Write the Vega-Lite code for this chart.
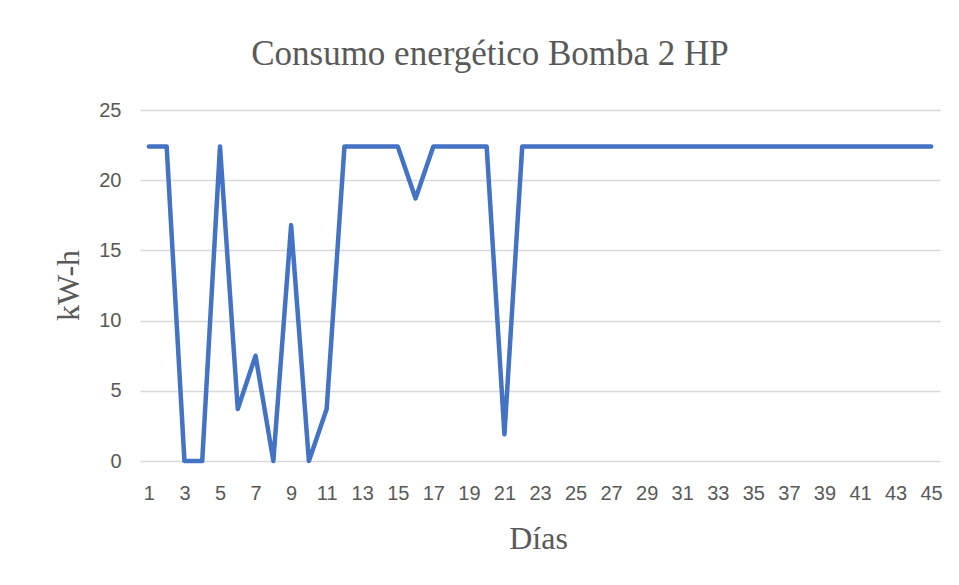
{
  "$schema": "https://vega.github.io/schema/vega-lite/v6.json",
  "width": 800,
  "height": 351,
  "autosize": {"type": "none"},
  "padding": {"left": 140, "top": 110, "right": 19, "bottom": 124},
  "background": "white",
  "title": {
    "text": "Consumo energético Bomba 2 HP",
    "font": "Liberation Serif",
    "fontSize": 35,
    "fontWeight": "normal",
    "color": "#595959",
    "anchor": "middle",
    "dx": -50,
    "offset": 28
  },
  "data": {
    "values": [
      {"dia": 1, "kwh": 22.4}, {"dia": 2, "kwh": 22.4}, {"dia": 3, "kwh": 0}, {"dia": 4, "kwh": 0},
      {"dia": 5, "kwh": 22.4}, {"dia": 6, "kwh": 3.7}, {"dia": 7, "kwh": 7.5}, {"dia": 8, "kwh": 0},
      {"dia": 9, "kwh": 16.8}, {"dia": 10, "kwh": 0}, {"dia": 11, "kwh": 3.7}, {"dia": 12, "kwh": 22.4},
      {"dia": 13, "kwh": 22.4}, {"dia": 14, "kwh": 22.4}, {"dia": 15, "kwh": 22.4}, {"dia": 16, "kwh": 18.7},
      {"dia": 17, "kwh": 22.4}, {"dia": 18, "kwh": 22.4}, {"dia": 19, "kwh": 22.4}, {"dia": 20, "kwh": 22.4},
      {"dia": 21, "kwh": 1.9}, {"dia": 22, "kwh": 22.4}, {"dia": 23, "kwh": 22.4}, {"dia": 24, "kwh": 22.4},
      {"dia": 25, "kwh": 22.4}, {"dia": 26, "kwh": 22.4}, {"dia": 27, "kwh": 22.4}, {"dia": 28, "kwh": 22.4},
      {"dia": 29, "kwh": 22.4}, {"dia": 30, "kwh": 22.4}, {"dia": 31, "kwh": 22.4}, {"dia": 32, "kwh": 22.4},
      {"dia": 33, "kwh": 22.4}, {"dia": 34, "kwh": 22.4}, {"dia": 35, "kwh": 22.4}, {"dia": 36, "kwh": 22.4},
      {"dia": 37, "kwh": 22.4}, {"dia": 38, "kwh": 22.4}, {"dia": 39, "kwh": 22.4}, {"dia": 40, "kwh": 22.4},
      {"dia": 41, "kwh": 22.4}, {"dia": 42, "kwh": 22.4}, {"dia": 43, "kwh": 22.4}, {"dia": 44, "kwh": 22.4},
      {"dia": 45, "kwh": 22.4}
    ]
  },
  "mark": {"type": "line", "color": "#4472C4", "strokeWidth": 4.5, "strokeCap": "round", "strokeJoin": "round"},
  "encoding": {
    "x": {
      "field": "dia",
      "type": "ordinal",
      "scale": {"type": "point", "padding": 0.5},
      "axis": {
        "title": "Días",
        "values": [1,3,5,7,9,11,13,15,17,19,21,23,25,27,29,31,33,35,37,39,41,43,45],
        "labelAngle": 0,
        "labelFont": "Liberation Sans",
        "labelFontSize": 20,
        "labelColor": "#595959",
        "labelPadding": 22,
        "labelBaseline": "top",
        "domain": false,
        "ticks": false,
        "grid": false,
        "titleFont": "Liberation Serif",
        "titleFontSize": 32,
        "titleFontWeight": "normal",
        "titleColor": "#595959",
        "titleBaseline": "alphabetic",
        "titleY": 87,
        "titleX": 398
      }
    },
    "y": {
      "field": "kwh",
      "type": "quantitative",
      "scale": {"domain": [0, 25], "nice": false},
      "axis": {
        "title": "kW-h",
        "values": [0, 5, 10, 15, 20, 25],
        "labelFont": "Liberation Sans",
        "labelFontSize": 20,
        "labelColor": "#595959",
        "labelPadding": 19,
        "domain": false,
        "ticks": false,
        "grid": true,
        "gridColor": "#D9D9D9",
        "gridWidth": 1.5,
        "titleFont": "Liberation Serif",
        "titleFontSize": 32,
        "titleFontWeight": "normal",
        "titleColor": "#595959",
        "titleBaseline": "alphabetic",
        "titleX": -62,
        "titleY": 175
      }
    }
  },
  "config": {"view": {"stroke": null}}
}
